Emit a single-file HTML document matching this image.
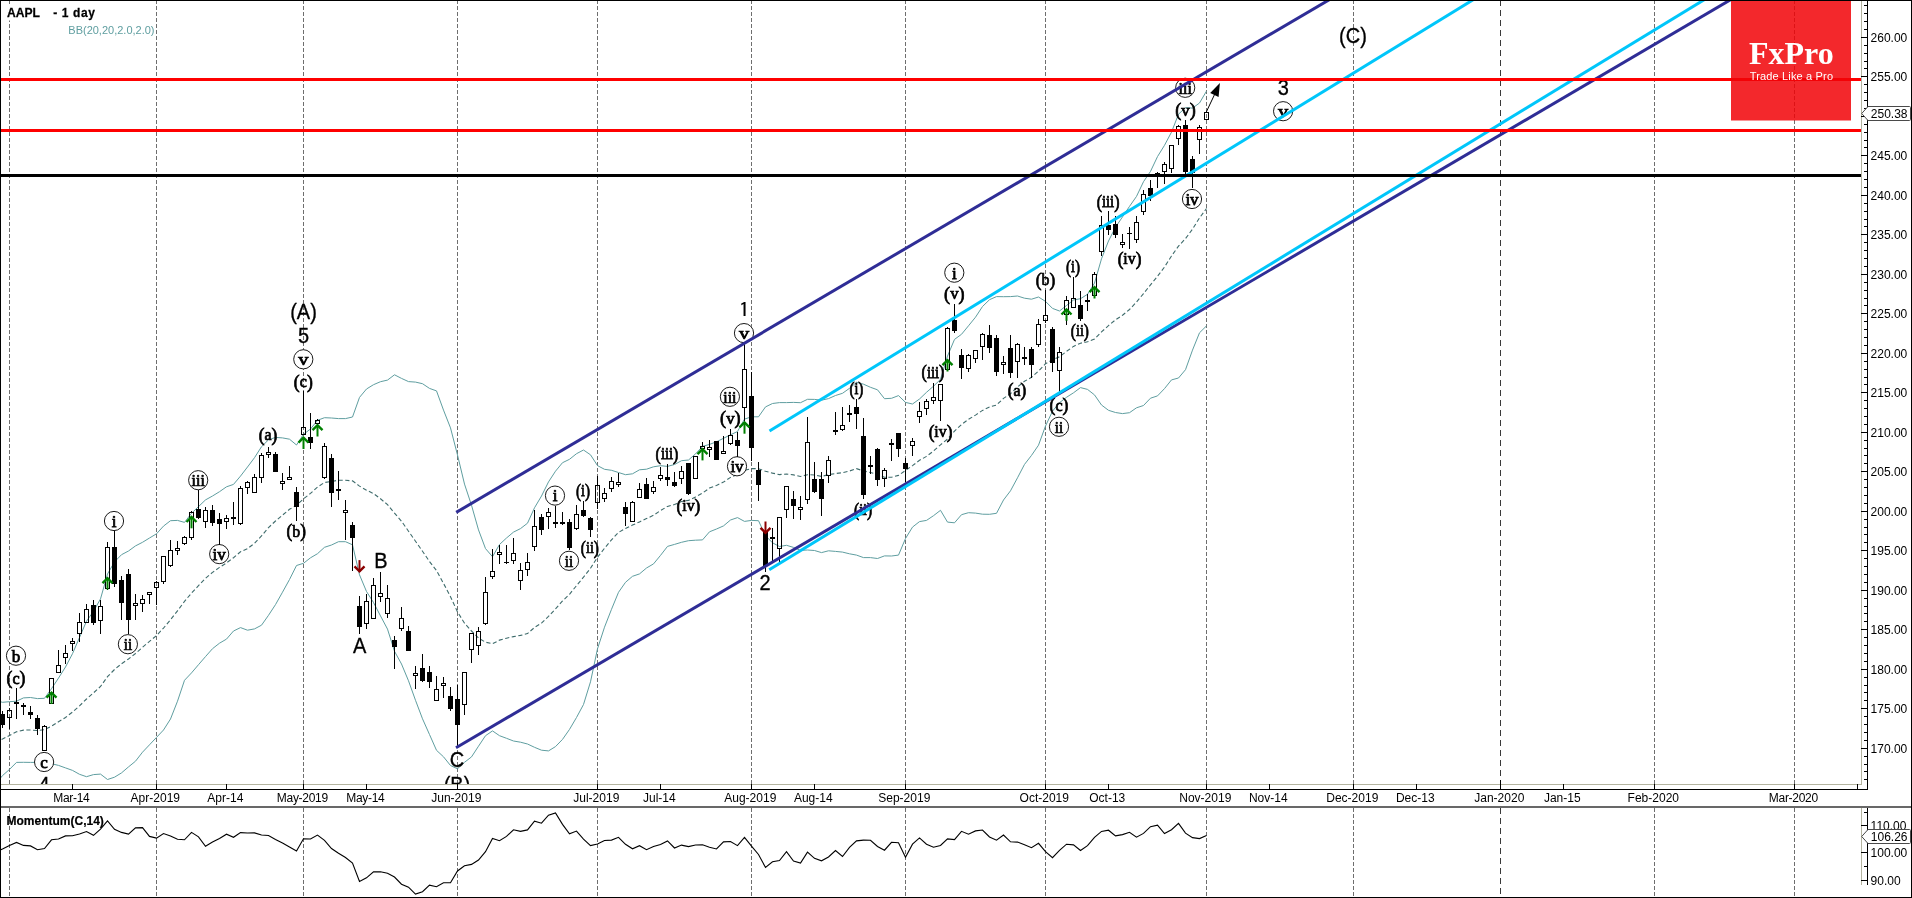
<!DOCTYPE html><html><head><meta charset="utf-8"><title>AAPL - 1 day</title>
<style>html,body{margin:0;padding:0;background:#fff}svg{display:block;will-change:transform}text{font-family:"Liberation Sans",sans-serif}.se,.se text{font-family:"Liberation Serif",serif;font-weight:bold}.sl,.sl text{font-family:"Liberation Serif",serif;font-weight:normal;stroke:#000;stroke-width:.75px}</style></head><body>
<svg width="1912" height="898" viewBox="0 0 1912 898">
<rect width="1912" height="898" fill="#fff"/>
<defs><clipPath id="cm"><rect x="1" y="1" width="1860" height="783"/></clipPath><clipPath id="cp"><rect x="1" y="808" width="1860" height="89"/></clipPath></defs>
<g shape-rendering="crispEdges" fill="none"><path d="M9.5 0V784M9.5 808V897" stroke="#6e6e6e" stroke-dasharray="4 2"/><path d="M156.5 0V784M156.5 808V897" stroke="#6e6e6e" stroke-dasharray="4 2"/><path d="M303.5 0V784M303.5 808V897" stroke="#6e6e6e" stroke-dasharray="4 2"/><path d="M457.5 0V784M457.5 808V897" stroke="#6e6e6e" stroke-dasharray="4 2"/><path d="M597.5 0V784M597.5 808V897" stroke="#6e6e6e" stroke-dasharray="4 2"/><path d="M751.5 0V784M751.5 808V897" stroke="#6e6e6e" stroke-dasharray="4 2"/><path d="M905.5 0V784M905.5 808V897" stroke="#6e6e6e" stroke-dasharray="4 2"/><path d="M1045.5 0V784M1045.5 808V897" stroke="#6e6e6e" stroke-dasharray="4 2"/><path d="M1206.5 0V784M1206.5 808V897" stroke="#6e6e6e" stroke-dasharray="4 2"/><path d="M1353.5 0V784M1353.5 808V897" stroke="#6e6e6e" stroke-dasharray="4 2"/><path d="M1500.5 0V784M1500.5 808V897" stroke="#3a3a3a" stroke-dasharray="6 4"/><path d="M1654.5 0V784M1654.5 808V897" stroke="#6e6e6e" stroke-dasharray="4 2"/><path d="M1794.5 0V784M1794.5 808V897" stroke="#6e6e6e" stroke-dasharray="4 2"/></g>
<g clip-path="url(#cm)">
<g id="bb" fill="none" stroke-width="1">
<polyline points="-4.5,700.4 2.5,702.3 9.5,701.7 16.5,701.2 23.5,697.9 30.5,697.5 37.5,698.6 44.5,698.3 51.5,688.7 58.5,678.1 65.5,667.0 72.5,653.7 79.5,637.5 86.5,621.2 93.5,611.3 100.5,598.9 107.5,574.0 114.5,561.9 121.5,554.7 128.5,551.0 135.5,545.9 142.5,542.3 149.5,538.0 156.5,533.8 163.5,526.1 170.5,520.7 177.5,520.4 184.5,522.4 191.5,513.3 198.5,506.6 205.5,499.9 212.5,496.0 219.5,491.7 226.5,486.8 233.5,484.4 240.5,476.1 247.5,467.0 254.5,457.7 261.5,446.7 268.5,439.8 275.5,437.4 282.5,437.9 289.5,439.2 296.5,445.0 303.5,434.3 310.5,429.0 317.5,420.3 324.5,417.7 331.5,418.0 338.5,418.6 345.5,418.6 352.5,417.0 359.5,397.4 366.5,389.0 373.5,384.7 380.5,381.7 387.5,380.1 394.5,374.8 401.5,378.4 408.5,381.6 415.5,382.1 422.5,383.7 429.5,388.4 436.5,390.9 443.5,410.1 450.5,427.9 457.5,455.0 464.5,484.1 471.5,505.2 478.5,529.9 485.5,548.6 492.5,556.7 499.5,544.5 506.5,538.0 513.5,532.1 520.5,528.6 527.5,523.2 534.5,507.8 541.5,496.0 548.5,481.9 555.5,471.2 562.5,462.7 569.5,459.3 576.5,453.7 583.5,450.0 590.5,454.8 597.5,465.6 604.5,469.3 611.5,470.3 618.5,472.5 625.5,474.7 632.5,473.8 639.5,469.8 646.5,469.2 653.5,466.8 660.5,465.7 667.5,466.4 674.5,464.5 681.5,460.7 688.5,460.0 695.5,453.9 702.5,446.4 709.5,444.4 716.5,441.8 723.5,438.3 730.5,434.8 737.5,431.5 744.5,419.1 751.5,416.8 758.5,416.8 765.5,406.9 772.5,403.5 779.5,402.6 786.5,402.6 793.5,402.4 800.5,402.7 807.5,399.3 814.5,399.4 821.5,400.2 828.5,398.6 835.5,395.5 842.5,393.3 849.5,388.3 856.5,382.3 863.5,384.2 870.5,387.3 877.5,389.8 884.5,398.7 891.5,398.3 898.5,395.6 905.5,402.4 912.5,404.0 919.5,399.0 926.5,392.3 933.5,386.2 940.5,379.3 947.5,356.1 954.5,339.4 961.5,334.3 968.5,325.8 975.5,317.2 982.5,306.5 989.5,299.7 996.5,296.6 1003.5,296.7 1010.5,296.6 1017.5,296.0 1024.5,298.2 1031.5,299.2 1038.5,297.0 1045.5,301.4 1052.5,308.4 1059.5,311.0 1066.5,305.5 1073.5,300.0 1080.5,298.7 1087.5,294.3 1094.5,283.1 1101.5,258.8 1108.5,241.0 1115.5,227.2 1122.5,216.9 1129.5,206.4 1136.5,196.4 1143.5,181.7 1150.5,171.4 1157.5,156.6 1164.5,145.3 1171.5,132.1 1178.5,114.2 1185.5,107.6 1192.5,108.1 1199.5,103.0 1206.5,91.1" stroke="#5f9ea0"/>
<polyline points="-4.5,783.9 2.5,775.6 9.5,769.4 16.5,762.4 23.5,762.3 30.5,762.4 37.5,762.4 44.5,761.1 51.5,763.7 58.5,765.4 65.5,767.9 72.5,770.4 79.5,774.3 86.5,776.7 93.5,774.6 100.5,774.1 107.5,779.5 114.5,777.2 121.5,772.9 128.5,766.9 135.5,761.2 142.5,752.2 149.5,744.8 156.5,737.4 163.5,730.0 170.5,719.0 177.5,701.2 184.5,680.3 191.5,672.9 198.5,664.7 205.5,656.6 212.5,648.7 219.5,643.2 226.5,639.1 233.5,631.0 240.5,627.6 247.5,630.2 254.5,628.9 261.5,625.2 268.5,615.3 275.5,604.6 282.5,592.2 289.5,579.5 296.5,565.5 303.5,563.3 310.5,557.8 317.5,553.7 324.5,547.3 331.5,545.0 338.5,541.7 345.5,541.7 352.5,544.8 359.5,574.8 366.5,591.5 373.5,602.5 380.5,615.9 387.5,629.1 394.5,651.3 401.5,664.0 408.5,680.8 415.5,700.3 422.5,718.8 429.5,734.5 436.5,750.3 443.5,756.8 450.5,765.5 457.5,768.8 464.5,762.3 471.5,756.9 478.5,746.2 485.5,735.7 492.5,730.9 499.5,735.7 506.5,738.3 513.5,741.0 520.5,742.2 527.5,744.0 534.5,747.3 541.5,750.2 548.5,750.9 555.5,746.6 562.5,739.4 569.5,729.4 576.5,717.5 583.5,704.5 590.5,681.8 597.5,648.8 604.5,627.2 611.5,609.3 618.5,592.3 625.5,582.3 632.5,576.3 639.5,573.9 646.5,568.0 653.5,563.9 660.5,555.4 667.5,546.4 674.5,544.4 681.5,542.3 688.5,540.7 695.5,540.2 702.5,539.9 709.5,531.8 716.5,529.0 723.5,525.9 730.5,520.0 737.5,517.6 744.5,521.4 751.5,520.4 758.5,520.7 765.5,535.8 772.5,542.8 779.5,546.5 786.5,545.3 793.5,547.4 800.5,550.4 807.5,550.0 814.5,550.5 821.5,552.6 828.5,550.8 835.5,551.4 842.5,552.1 849.5,553.8 856.5,555.1 863.5,557.6 870.5,557.6 877.5,558.5 884.5,555.9 891.5,556.0 898.5,555.1 905.5,538.5 912.5,527.1 919.5,521.6 926.5,520.4 933.5,515.7 940.5,510.3 947.5,522.1 954.5,522.8 961.5,514.7 968.5,512.7 975.5,513.1 982.5,514.2 989.5,514.3 996.5,513.3 1003.5,500.0 1010.5,490.8 1017.5,477.8 1024.5,464.4 1031.5,455.4 1038.5,445.2 1045.5,426.0 1052.5,411.2 1059.5,402.7 1066.5,397.3 1073.5,392.8 1080.5,387.6 1087.5,389.4 1094.5,394.9 1101.5,405.0 1108.5,410.3 1115.5,412.5 1122.5,413.6 1129.5,412.7 1136.5,407.8 1143.5,405.5 1150.5,398.2 1157.5,395.9 1164.5,388.6 1171.5,379.9 1178.5,378.0 1185.5,369.7 1192.5,350.1 1199.5,332.8 1206.5,325.9" stroke="#5f9ea0"/>
<polyline points="-4.5,742.2 2.5,739.0 9.5,735.5 16.5,731.8 23.5,730.1 30.5,730.0 37.5,730.5 44.5,729.7 51.5,726.2 58.5,721.7 65.5,717.5 72.5,712.0 79.5,705.9 86.5,699.0 93.5,692.9 100.5,686.5 107.5,676.7 114.5,669.5 121.5,663.8 128.5,659.0 135.5,653.5 142.5,647.3 149.5,641.4 156.5,635.6 163.5,628.1 170.5,619.8 177.5,610.8 184.5,601.4 191.5,593.1 198.5,585.7 205.5,578.3 212.5,572.4 219.5,567.4 226.5,562.9 233.5,557.7 240.5,551.8 247.5,548.6 254.5,543.3 261.5,535.9 268.5,527.6 275.5,521.0 282.5,515.1 289.5,509.3 296.5,505.3 303.5,498.8 310.5,493.4 317.5,487.0 324.5,482.5 331.5,481.5 338.5,480.2 345.5,480.2 352.5,480.9 359.5,486.1 366.5,490.2 373.5,493.6 380.5,498.8 387.5,504.6 394.5,513.1 401.5,521.2 408.5,531.2 415.5,541.2 422.5,551.2 429.5,561.5 436.5,570.6 443.5,583.4 450.5,596.7 457.5,611.9 464.5,623.2 471.5,631.0 478.5,638.1 485.5,642.2 492.5,643.8 499.5,640.1 506.5,638.2 513.5,636.6 520.5,635.4 527.5,633.6 534.5,627.5 541.5,623.1 548.5,616.4 555.5,608.9 562.5,601.0 569.5,594.3 576.5,585.6 583.5,577.2 590.5,568.3 597.5,557.2 604.5,548.3 611.5,539.8 618.5,532.4 625.5,528.5 632.5,525.1 639.5,521.9 646.5,518.6 653.5,515.3 660.5,510.6 667.5,506.4 674.5,504.5 681.5,501.5 688.5,500.4 695.5,497.0 702.5,493.1 709.5,488.1 716.5,485.4 723.5,482.1 730.5,477.4 737.5,474.6 744.5,470.3 751.5,468.6 758.5,468.7 765.5,471.3 772.5,473.1 779.5,474.6 786.5,474.0 793.5,474.9 800.5,476.5 807.5,474.7 814.5,475.0 821.5,476.4 828.5,474.7 835.5,473.5 842.5,472.7 849.5,471.0 856.5,468.7 863.5,470.9 870.5,472.5 877.5,474.2 884.5,477.3 891.5,477.2 898.5,475.4 905.5,470.5 912.5,465.6 919.5,460.3 926.5,456.4 933.5,451.0 940.5,444.8 947.5,439.1 954.5,431.1 961.5,424.5 968.5,419.3 975.5,415.1 982.5,410.4 989.5,407.0 996.5,405.0 1003.5,398.4 1010.5,393.7 1017.5,386.9 1024.5,381.3 1031.5,377.3 1038.5,371.1 1045.5,363.7 1052.5,359.8 1059.5,356.8 1066.5,351.4 1073.5,346.4 1080.5,343.2 1087.5,341.8 1094.5,339.0 1101.5,331.9 1108.5,325.6 1115.5,319.9 1122.5,315.2 1129.5,309.5 1136.5,302.1 1143.5,293.6 1150.5,284.8 1157.5,276.3 1164.5,267.0 1171.5,256.0 1178.5,246.1 1185.5,238.6 1192.5,229.1 1199.5,217.9 1206.5,208.5" stroke="#3f6c6c" stroke-width="1.1" stroke-dasharray="4.2 2.5"/>
</g>
<g id="labels" fill="#000" text-anchor="middle"><g font-size="20" stroke="#000" stroke-width="0.3"><text transform="translate(303.5 319.3) scale(1 1.09)">(A)</text><text transform="translate(303.5 342.6) scale(1 1.09)">5</text><text transform="translate(359.6 652.9) scale(1 1.09)">A</text><text transform="translate(380.8 567.7) scale(1 1.09)">B</text><text transform="translate(457 766.6) scale(1 1.09)">C</text><text transform="translate(457 792.4) scale(1 1.09)">(B)</text><text transform="translate(44.0 792.4) scale(1 1.09)">4</text><text style="font-family:IPAGothic,'Liberation Sans',sans-serif" stroke-width="0.15" transform="translate(744.3 317.1) scale(1.1 1.02)">1</text><text transform="translate(765 589.9) scale(1 1.09)">2</text><text transform="translate(1283.4 94.8) scale(1 1.09)">3</text><text transform="translate(1353 43.3) scale(1 1.09)">(C)</text></g><g class="sl" font-size="17"><text transform="translate(16 683.8) scale(0.95 1)"><tspan font-size="18.5" dy="0.6">(</tspan><tspan dy="-0.6">c</tspan><tspan font-size="18.5" dy="0.6">)</tspan></text><text transform="translate(268.1 440.3) scale(0.93 1)"><tspan font-size="18.5" dy="0.6">(</tspan><tspan dy="-0.6">a</tspan><tspan font-size="18.5" dy="0.6">)</tspan></text><text transform="translate(296.3 536.6) scale(0.93 1)"><tspan font-size="18.5" dy="0.6">(</tspan><tspan dy="-0.6">b</tspan><tspan font-size="18.5" dy="0.6">)</tspan></text><text transform="translate(303.3 387.1) scale(0.95 1)"><tspan font-size="18.5" dy="0.6">(</tspan><tspan dy="-0.6">c</tspan><tspan font-size="18.5" dy="0.6">)</tspan></text><text transform="translate(583 496.1) scale(0.82 1)"><tspan font-size="18.5" dy="0.6">(</tspan><tspan dy="-0.6">i</tspan><tspan font-size="18.5" dy="0.6">)</tspan></text><text transform="translate(589.9 553.1) scale(0.83 1)"><tspan font-size="18.5" dy="0.6">(</tspan><tspan dy="-0.6">ii</tspan><tspan font-size="18.5" dy="0.6">)</tspan></text><text transform="translate(667 458.9) scale(0.86 1)"><tspan font-size="18.5" dy="0.6">(</tspan><tspan dy="-0.6">iii</tspan><tspan font-size="18.5" dy="0.6">)</tspan></text><text transform="translate(688.4 511.1) scale(0.93 1)"><tspan font-size="18.5" dy="0.6">(</tspan><tspan dy="-0.6">iv</tspan><tspan font-size="18.5" dy="0.6">)</tspan></text><text transform="translate(730.3 423.8) scale(0.98 1)"><tspan font-size="18.5" dy="0.6">(</tspan><tspan dy="-0.6">v</tspan><tspan font-size="18.5" dy="0.6">)</tspan></text><text transform="translate(856.4 394.1) scale(0.82 1)"><tspan font-size="18.5" dy="0.6">(</tspan><tspan dy="-0.6">i</tspan><tspan font-size="18.5" dy="0.6">)</tspan></text><text transform="translate(863.1 515.3) scale(0.83 1)"><tspan font-size="18.5" dy="0.6">(</tspan><tspan dy="-0.6">ii</tspan><tspan font-size="18.5" dy="0.6">)</tspan></text><text transform="translate(933 377.7) scale(0.86 1)"><tspan font-size="18.5" dy="0.6">(</tspan><tspan dy="-0.6">iii</tspan><tspan font-size="18.5" dy="0.6">)</tspan></text><text transform="translate(940.5 437.3) scale(0.93 1)"><tspan font-size="18.5" dy="0.6">(</tspan><tspan dy="-0.6">iv</tspan><tspan font-size="18.5" dy="0.6">)</tspan></text><text transform="translate(954.3 299.4) scale(0.98 1)"><tspan font-size="18.5" dy="0.6">(</tspan><tspan dy="-0.6">v</tspan><tspan font-size="18.5" dy="0.6">)</tspan></text><text transform="translate(1017 395.6) scale(0.93 1)"><tspan font-size="18.5" dy="0.6">(</tspan><tspan dy="-0.6">a</tspan><tspan font-size="18.5" dy="0.6">)</tspan></text><text transform="translate(1045.5 285.4) scale(0.93 1)"><tspan font-size="18.5" dy="0.6">(</tspan><tspan dy="-0.6">b</tspan><tspan font-size="18.5" dy="0.6">)</tspan></text><text transform="translate(1059 410.7) scale(0.95 1)"><tspan font-size="18.5" dy="0.6">(</tspan><tspan dy="-0.6">c</tspan><tspan font-size="18.5" dy="0.6">)</tspan></text><text transform="translate(1073 272.0) scale(0.82 1)"><tspan font-size="18.5" dy="0.6">(</tspan><tspan dy="-0.6">i</tspan><tspan font-size="18.5" dy="0.6">)</tspan></text><text transform="translate(1079.9 336.4) scale(0.83 1)"><tspan font-size="18.5" dy="0.6">(</tspan><tspan dy="-0.6">ii</tspan><tspan font-size="18.5" dy="0.6">)</tspan></text><text transform="translate(1108.1 207.0) scale(0.86 1)"><tspan font-size="18.5" dy="0.6">(</tspan><tspan dy="-0.6">iii</tspan><tspan font-size="18.5" dy="0.6">)</tspan></text><text transform="translate(1129.5 264.4) scale(0.93 1)"><tspan font-size="18.5" dy="0.6">(</tspan><tspan dy="-0.6">iv</tspan><tspan font-size="18.5" dy="0.6">)</tspan></text><text transform="translate(1185.5 115.8) scale(0.98 1)"><tspan font-size="18.5" dy="0.6">(</tspan><tspan dy="-0.6">v</tspan><tspan font-size="18.5" dy="0.6">)</tspan></text></g><g class="sl" font-size="17"><circle cx="16" cy="655.7" r="9.6" fill="#fff" stroke="#1a1a1a" stroke-width="1"/><text transform="translate(16 661.5) scale(1 1)">b</text><circle cx="44.1" cy="762.0" r="9.6" fill="#fff" stroke="#1a1a1a" stroke-width="1"/><text transform="translate(44.1 767.8) scale(1 1)">c</text><circle cx="114" cy="521" r="9.6" fill="#fff" stroke="#1a1a1a" stroke-width="1"/><text transform="translate(114 526.8) scale(1 1)">i</text><circle cx="127.9" cy="644.2" r="9.6" fill="#fff" stroke="#1a1a1a" stroke-width="1"/><text transform="translate(127.9 650.0) scale(0.88 1)">ii</text><circle cx="198.2" cy="480.2" r="9.6" fill="#fff" stroke="#1a1a1a" stroke-width="1"/><text transform="translate(198.2 486.0) scale(0.93 1)">iii</text><circle cx="219.2" cy="554.1" r="9.6" fill="#fff" stroke="#1a1a1a" stroke-width="1"/><text transform="translate(219.2 559.9) scale(1 1)">iv</text><circle cx="303.3" cy="359.3" r="9.6" fill="#fff" stroke="#1a1a1a" stroke-width="1"/><text transform="translate(303.3 365.1) scale(1.2 1)">v</text><circle cx="555" cy="495.6" r="9.6" fill="#fff" stroke="#1a1a1a" stroke-width="1"/><text transform="translate(555 501.4) scale(1 1)">i</text><circle cx="569" cy="560.8" r="9.6" fill="#fff" stroke="#1a1a1a" stroke-width="1"/><text transform="translate(569 566.6) scale(0.88 1)">ii</text><circle cx="729.9" cy="396.8" r="9.6" fill="#fff" stroke="#1a1a1a" stroke-width="1"/><text transform="translate(729.9 402.6) scale(0.93 1)">iii</text><circle cx="737" cy="466.3" r="9.6" fill="#fff" stroke="#1a1a1a" stroke-width="1"/><text transform="translate(737 472.1) scale(1 1)">iv</text><circle cx="744" cy="333.1" r="9.6" fill="#fff" stroke="#1a1a1a" stroke-width="1"/><text transform="translate(744 338.9) scale(1.2 1)">v</text><circle cx="954.3" cy="272.7" r="9.6" fill="#fff" stroke="#1a1a1a" stroke-width="1"/><text transform="translate(954.3 278.5) scale(1 1)">i</text><circle cx="1059" cy="426.8" r="9.6" fill="#fff" stroke="#1a1a1a" stroke-width="1"/><text transform="translate(1059 432.6) scale(0.88 1)">ii</text><circle cx="1185.2" cy="87.8" r="9.6" fill="#fff" stroke="#1a1a1a" stroke-width="1"/><text transform="translate(1185.2 93.6) scale(0.93 1)">iii</text><circle cx="1192" cy="199" r="9.6" fill="#fff" stroke="#1a1a1a" stroke-width="1"/><text transform="translate(1192 204.8) scale(1 1)">iv</text><circle cx="1283.1" cy="111.2" r="9.6" fill="#fff" stroke="#1a1a1a" stroke-width="1"/><text transform="translate(1283.1 117.0) scale(1.2 1)">v</text></g></g>
<g id="candles" shape-rendering="crispEdges"><rect x="2" y="711" width="1" height="17" fill="#000"/><rect x="0" y="714" width="5" height="11" fill="#000"/><rect x="9" y="708" width="1" height="2" fill="#000"/><rect x="9" y="718" width="1" height="11" fill="#000"/><rect x="7.5" y="710.5" width="4" height="7" fill="none" stroke="#000"/><rect x="16" y="688" width="1" height="31" fill="#000"/><rect x="14" y="702" width="5" height="2" fill="#000"/><rect x="23" y="703" width="1" height="12" fill="#000"/><rect x="21" y="705" width="5" height="2" fill="#000"/><rect x="30" y="706" width="1" height="13" fill="#000"/><rect x="28" y="712" width="5" height="3" fill="#000"/><rect x="37" y="715" width="1" height="20" fill="#000"/><rect x="35" y="718" width="5" height="11" fill="#000"/><rect x="44" y="725" width="1" height="1" fill="#000"/><rect x="42.5" y="726.5" width="4" height="24" fill="none" stroke="#000"/><rect x="49.5" y="678.5" width="4" height="25" fill="none" stroke="#000"/><rect x="58" y="650" width="1" height="15" fill="#000"/><rect x="56.5" y="665.5" width="4" height="7" fill="none" stroke="#000"/><rect x="65" y="645" width="1" height="8" fill="#000"/><rect x="65" y="658" width="1" height="6" fill="#000"/><rect x="63.5" y="653.5" width="4" height="4" fill="none" stroke="#000"/><rect x="72" y="638" width="1" height="3" fill="#000"/><rect x="72" y="644" width="1" height="7" fill="#000"/><rect x="70.5" y="641.5" width="4" height="2" fill="none" stroke="#000"/><rect x="79" y="613" width="1" height="9" fill="#000"/><rect x="79" y="634" width="1" height="8" fill="#000"/><rect x="77.5" y="622.5" width="4" height="11" fill="none" stroke="#000"/><rect x="86" y="604" width="1" height="5" fill="#000"/><rect x="84.5" y="609.5" width="4" height="13" fill="none" stroke="#000"/><rect x="93" y="600" width="1" height="25" fill="#000"/><rect x="91" y="605" width="5" height="18" fill="#000"/><rect x="100" y="600" width="1" height="6" fill="#000"/><rect x="100" y="621" width="1" height="13" fill="#000"/><rect x="98.5" y="606.5" width="4" height="14" fill="none" stroke="#000"/><rect x="107" y="542" width="1" height="5" fill="#000"/><rect x="107" y="589" width="1" height="1" fill="#000"/><rect x="105.5" y="547.5" width="4" height="41" fill="none" stroke="#000"/><rect x="114" y="531" width="1" height="56" fill="#000"/><rect x="112" y="547" width="5" height="37" fill="#000"/><rect x="121" y="576" width="1" height="44" fill="#000"/><rect x="119" y="580" width="5" height="23" fill="#000"/><rect x="128" y="569" width="1" height="65" fill="#000"/><rect x="126" y="574" width="5" height="46" fill="#000"/><rect x="135" y="594" width="1" height="9" fill="#000"/><rect x="135" y="606" width="1" height="14" fill="#000"/><rect x="133.5" y="603.5" width="4" height="2" fill="none" stroke="#000"/><rect x="142" y="595" width="1" height="4" fill="#000"/><rect x="142" y="604" width="1" height="8" fill="#000"/><rect x="140.5" y="599.5" width="4" height="4" fill="none" stroke="#000"/><rect x="149" y="595" width="1" height="9" fill="#000"/><rect x="147.5" y="592.5" width="4" height="2" fill="none" stroke="#000"/><rect x="156" y="581" width="1" height="1" fill="#000"/><rect x="156" y="588" width="1" height="17" fill="#000"/><rect x="154.5" y="582.5" width="4" height="5" fill="none" stroke="#000"/><rect x="163" y="582" width="1" height="2" fill="#000"/><rect x="161.5" y="556.5" width="4" height="25" fill="none" stroke="#000"/><rect x="170" y="540" width="1" height="10" fill="#000"/><rect x="170" y="566" width="1" height="1" fill="#000"/><rect x="168.5" y="550.5" width="4" height="15" fill="none" stroke="#000"/><rect x="177" y="541" width="1" height="7" fill="#000"/><rect x="177" y="551" width="1" height="4" fill="#000"/><rect x="175.5" y="548.5" width="4" height="2" fill="none" stroke="#000"/><rect x="184" y="536" width="1" height="1" fill="#000"/><rect x="184" y="544" width="1" height="1" fill="#000"/><rect x="182.5" y="537.5" width="4" height="6" fill="none" stroke="#000"/><rect x="191" y="511" width="1" height="1" fill="#000"/><rect x="191" y="538" width="1" height="2" fill="#000"/><rect x="189.5" y="512.5" width="4" height="25" fill="none" stroke="#000"/><rect x="198" y="490" width="1" height="29" fill="#000"/><rect x="196" y="509" width="5" height="9" fill="#000"/><rect x="205" y="507" width="1" height="3" fill="#000"/><rect x="205" y="522" width="1" height="6" fill="#000"/><rect x="203.5" y="510.5" width="4" height="11" fill="none" stroke="#000"/><rect x="212" y="505" width="1" height="21" fill="#000"/><rect x="210" y="510" width="5" height="13" fill="#000"/><rect x="219" y="513" width="1" height="32" fill="#000"/><rect x="217" y="519" width="5" height="5" fill="#000"/><rect x="226" y="515" width="1" height="3" fill="#000"/><rect x="226" y="522" width="1" height="7" fill="#000"/><rect x="224.5" y="518.5" width="4" height="3" fill="none" stroke="#000"/><rect x="233" y="502" width="1" height="23" fill="#000"/><rect x="231" y="517" width="5" height="2" fill="#000"/><rect x="240" y="486" width="1" height="2" fill="#000"/><rect x="240" y="524" width="1" height="1" fill="#000"/><rect x="238.5" y="488.5" width="4" height="35" fill="none" stroke="#000"/><rect x="247" y="481" width="1" height="1" fill="#000"/><rect x="247" y="488" width="1" height="6" fill="#000"/><rect x="245.5" y="482.5" width="4" height="5" fill="none" stroke="#000"/><rect x="254" y="474" width="1" height="3" fill="#000"/><rect x="252.5" y="477.5" width="4" height="15" fill="none" stroke="#000"/><rect x="261" y="453" width="1" height="2" fill="#000"/><rect x="261" y="478" width="1" height="5" fill="#000"/><rect x="259.5" y="455.5" width="4" height="22" fill="none" stroke="#000"/><rect x="268" y="447" width="1" height="5" fill="#000"/><rect x="268" y="455" width="1" height="3" fill="#000"/><rect x="266.5" y="452.5" width="4" height="2" fill="none" stroke="#000"/><rect x="275" y="452" width="1" height="20" fill="#000"/><rect x="273" y="454" width="5" height="18" fill="#000"/><rect x="282" y="473" width="1" height="8" fill="#000"/><rect x="282" y="484" width="1" height="6" fill="#000"/><rect x="280.5" y="481.5" width="4" height="2" fill="none" stroke="#000"/><rect x="289" y="466" width="1" height="11" fill="#000"/><rect x="287.5" y="477.5" width="4" height="2" fill="none" stroke="#000"/><rect x="296" y="487" width="1" height="34" fill="#000"/><rect x="294" y="492" width="5" height="15" fill="#000"/><rect x="303" y="391" width="1" height="36" fill="#000"/><rect x="301.5" y="427.5" width="4" height="7" fill="none" stroke="#000"/><rect x="310" y="413" width="1" height="36" fill="#000"/><rect x="308" y="437" width="5" height="6" fill="#000"/><rect x="317" y="419" width="1" height="1" fill="#000"/><rect x="315.5" y="420.5" width="4" height="3" fill="none" stroke="#000"/><rect x="324" y="443" width="1" height="3" fill="#000"/><rect x="324" y="478" width="1" height="1" fill="#000"/><rect x="322.5" y="446.5" width="4" height="31" fill="none" stroke="#000"/><rect x="331" y="454" width="1" height="53" fill="#000"/><rect x="329" y="458" width="5" height="35" fill="#000"/><rect x="338" y="471" width="1" height="29" fill="#000"/><rect x="336" y="489" width="5" height="2" fill="#000"/><rect x="345" y="500" width="1" height="10" fill="#000"/><rect x="345" y="513" width="1" height="27" fill="#000"/><rect x="343.5" y="510.5" width="4" height="2" fill="none" stroke="#000"/><rect x="352" y="522" width="1" height="49" fill="#000"/><rect x="350" y="525" width="5" height="13" fill="#000"/><rect x="359" y="596" width="1" height="38" fill="#000"/><rect x="357" y="606" width="5" height="21" fill="#000"/><rect x="366" y="594" width="1" height="7" fill="#000"/><rect x="366" y="624" width="1" height="5" fill="#000"/><rect x="364.5" y="601.5" width="4" height="22" fill="none" stroke="#000"/><rect x="373" y="578" width="1" height="7" fill="#000"/><rect x="371.5" y="585.5" width="4" height="33" fill="none" stroke="#000"/><rect x="380" y="572" width="1" height="21" fill="#000"/><rect x="380" y="597" width="1" height="5" fill="#000"/><rect x="378.5" y="593.5" width="4" height="3" fill="none" stroke="#000"/><rect x="387" y="585" width="1" height="13" fill="#000"/><rect x="387" y="614" width="1" height="4" fill="#000"/><rect x="385.5" y="598.5" width="4" height="15" fill="none" stroke="#000"/><rect x="394" y="636" width="1" height="33" fill="#000"/><rect x="392" y="640" width="5" height="7" fill="#000"/><rect x="401" y="607" width="1" height="11" fill="#000"/><rect x="401" y="629" width="1" height="2" fill="#000"/><rect x="399.5" y="618.5" width="4" height="10" fill="none" stroke="#000"/><rect x="408" y="626" width="1" height="25" fill="#000"/><rect x="406" y="631" width="5" height="20" fill="#000"/><rect x="415" y="666" width="1" height="7" fill="#000"/><rect x="415" y="676" width="1" height="13" fill="#000"/><rect x="413.5" y="673.5" width="4" height="2" fill="none" stroke="#000"/><rect x="422" y="654" width="1" height="28" fill="#000"/><rect x="420" y="668" width="5" height="13" fill="#000"/><rect x="429" y="666" width="1" height="22" fill="#000"/><rect x="427" y="672" width="5" height="10" fill="#000"/><rect x="436" y="676" width="1" height="13" fill="#000"/><rect x="434.5" y="689.5" width="4" height="11" fill="none" stroke="#000"/><rect x="443" y="677" width="1" height="6" fill="#000"/><rect x="443" y="686" width="1" height="12" fill="#000"/><rect x="441.5" y="683.5" width="4" height="2" fill="none" stroke="#000"/><rect x="450" y="687" width="1" height="24" fill="#000"/><rect x="448" y="696" width="5" height="13" fill="#000"/><rect x="457" y="685" width="1" height="63" fill="#000"/><rect x="455" y="699" width="5" height="26" fill="#000"/><rect x="464" y="705" width="1" height="10" fill="#000"/><rect x="462.5" y="672.5" width="4" height="32" fill="none" stroke="#000"/><rect x="471" y="650" width="1" height="13" fill="#000"/><rect x="469.5" y="633.5" width="4" height="16" fill="none" stroke="#000"/><rect x="478" y="627" width="1" height="4" fill="#000"/><rect x="478" y="646" width="1" height="9" fill="#000"/><rect x="476.5" y="631.5" width="4" height="14" fill="none" stroke="#000"/><rect x="485" y="577" width="1" height="15" fill="#000"/><rect x="485" y="624" width="1" height="1" fill="#000"/><rect x="483.5" y="592.5" width="4" height="31" fill="none" stroke="#000"/><rect x="492" y="549" width="1" height="22" fill="#000"/><rect x="492" y="577" width="1" height="2" fill="#000"/><rect x="490.5" y="571.5" width="4" height="5" fill="none" stroke="#000"/><rect x="499" y="545" width="1" height="7" fill="#000"/><rect x="499" y="555" width="1" height="9" fill="#000"/><rect x="497.5" y="552.5" width="4" height="2" fill="none" stroke="#000"/><rect x="506" y="545" width="1" height="19" fill="#000"/><rect x="504" y="562" width="5" height="1" fill="#000"/><rect x="513" y="538" width="1" height="15" fill="#000"/><rect x="513" y="561" width="1" height="3" fill="#000"/><rect x="511.5" y="553.5" width="4" height="7" fill="none" stroke="#000"/><rect x="520" y="563" width="1" height="7" fill="#000"/><rect x="520" y="581" width="1" height="9" fill="#000"/><rect x="518.5" y="570.5" width="4" height="10" fill="none" stroke="#000"/><rect x="527" y="553" width="1" height="9" fill="#000"/><rect x="527" y="570" width="1" height="6" fill="#000"/><rect x="525.5" y="562.5" width="4" height="7" fill="none" stroke="#000"/><rect x="534" y="510" width="1" height="16" fill="#000"/><rect x="534" y="547" width="1" height="4" fill="#000"/><rect x="532.5" y="526.5" width="4" height="20" fill="none" stroke="#000"/><rect x="541" y="514" width="1" height="21" fill="#000"/><rect x="539" y="517" width="5" height="13" fill="#000"/><rect x="548" y="508" width="1" height="4" fill="#000"/><rect x="548" y="517" width="1" height="12" fill="#000"/><rect x="546.5" y="512.5" width="4" height="4" fill="none" stroke="#000"/><rect x="555" y="506" width="1" height="22" fill="#000"/><rect x="553" y="522" width="5" height="2" fill="#000"/><rect x="562" y="512" width="1" height="13" fill="#000"/><rect x="560" y="522" width="5" height="2" fill="#000"/><rect x="569" y="519" width="1" height="31" fill="#000"/><rect x="567" y="522" width="5" height="26" fill="#000"/><rect x="576" y="505" width="1" height="9" fill="#000"/><rect x="576" y="529" width="1" height="1" fill="#000"/><rect x="574.5" y="514.5" width="4" height="14" fill="none" stroke="#000"/><rect x="583" y="501" width="1" height="16" fill="#000"/><rect x="581" y="510" width="5" height="6" fill="#000"/><rect x="590" y="517" width="1" height="20" fill="#000"/><rect x="588" y="518" width="5" height="12" fill="#000"/><rect x="597" y="476" width="1" height="9" fill="#000"/><rect x="597" y="503" width="1" height="6" fill="#000"/><rect x="595.5" y="485.5" width="4" height="17" fill="none" stroke="#000"/><rect x="604" y="488" width="1" height="5" fill="#000"/><rect x="604" y="499" width="1" height="3" fill="#000"/><rect x="602.5" y="493.5" width="4" height="5" fill="none" stroke="#000"/><rect x="611" y="477" width="1" height="4" fill="#000"/><rect x="611" y="489" width="1" height="3" fill="#000"/><rect x="609.5" y="481.5" width="4" height="7" fill="none" stroke="#000"/><rect x="618" y="473" width="1" height="9" fill="#000"/><rect x="618" y="485" width="1" height="2" fill="#000"/><rect x="616.5" y="482.5" width="4" height="2" fill="none" stroke="#000"/><rect x="625" y="502" width="1" height="24" fill="#000"/><rect x="623" y="507" width="5" height="7" fill="#000"/><rect x="632" y="501" width="1" height="1" fill="#000"/><rect x="630.5" y="502.5" width="4" height="19" fill="none" stroke="#000"/><rect x="639" y="483" width="1" height="6" fill="#000"/><rect x="637.5" y="489.5" width="4" height="8" fill="none" stroke="#000"/><rect x="646" y="478" width="1" height="21" fill="#000"/><rect x="644" y="484" width="5" height="15" fill="#000"/><rect x="653" y="481" width="1" height="6" fill="#000"/><rect x="653" y="492" width="1" height="2" fill="#000"/><rect x="651.5" y="487.5" width="4" height="4" fill="none" stroke="#000"/><rect x="660" y="467" width="1" height="8" fill="#000"/><rect x="660" y="479" width="1" height="2" fill="#000"/><rect x="658.5" y="475.5" width="4" height="3" fill="none" stroke="#000"/><rect x="667" y="464" width="1" height="22" fill="#000"/><rect x="665" y="477" width="5" height="3" fill="#000"/><rect x="674" y="472" width="1" height="15" fill="#000"/><rect x="672" y="482" width="5" height="4" fill="#000"/><rect x="681" y="466" width="1" height="5" fill="#000"/><rect x="681" y="479" width="1" height="5" fill="#000"/><rect x="679.5" y="471.5" width="4" height="7" fill="none" stroke="#000"/><rect x="688" y="463" width="1" height="32" fill="#000"/><rect x="686" y="463" width="5" height="31" fill="#000"/><rect x="693.5" y="456.5" width="4" height="22" fill="none" stroke="#000"/><rect x="702" y="442" width="1" height="4" fill="#000"/><rect x="700.5" y="446.5" width="4" height="2" fill="none" stroke="#000"/><rect x="709" y="440" width="1" height="7" fill="#000"/><rect x="709" y="450" width="1" height="7" fill="#000"/><rect x="707.5" y="447.5" width="4" height="2" fill="none" stroke="#000"/><rect x="716" y="441" width="1" height="19" fill="#000"/><rect x="714" y="441" width="5" height="19" fill="#000"/><rect x="723" y="436" width="1" height="15" fill="#000"/><rect x="721.5" y="451.5" width="4" height="2" fill="none" stroke="#000"/><rect x="730" y="429" width="1" height="6" fill="#000"/><rect x="730" y="444" width="1" height="1" fill="#000"/><rect x="728.5" y="435.5" width="4" height="8" fill="none" stroke="#000"/><rect x="737" y="432" width="1" height="25" fill="#000"/><rect x="735" y="440" width="5" height="6" fill="#000"/><rect x="744" y="343" width="1" height="26" fill="#000"/><rect x="744" y="408" width="1" height="13" fill="#000"/><rect x="742.5" y="369.5" width="4" height="38" fill="none" stroke="#000"/><rect x="751" y="372" width="1" height="89" fill="#000"/><rect x="749" y="396" width="5" height="52" fill="#000"/><rect x="758" y="462" width="1" height="39" fill="#000"/><rect x="756" y="470" width="5" height="15" fill="#000"/><rect x="765" y="532" width="1" height="40" fill="#000"/><rect x="763" y="532" width="5" height="34" fill="#000"/><rect x="772" y="528" width="1" height="33" fill="#000"/><rect x="770" y="537" width="5" height="2" fill="#000"/><rect x="779" y="549" width="1" height="13" fill="#000"/><rect x="777.5" y="517.5" width="4" height="31" fill="none" stroke="#000"/><rect x="786" y="510" width="1" height="8" fill="#000"/><rect x="784.5" y="486.5" width="4" height="23" fill="none" stroke="#000"/><rect x="793" y="491" width="1" height="28" fill="#000"/><rect x="791" y="499" width="5" height="7" fill="#000"/><rect x="800" y="496" width="1" height="11" fill="#000"/><rect x="800" y="510" width="1" height="10" fill="#000"/><rect x="798.5" y="507.5" width="4" height="2" fill="none" stroke="#000"/><rect x="807" y="417" width="1" height="25" fill="#000"/><rect x="807" y="500" width="1" height="4" fill="#000"/><rect x="805.5" y="442.5" width="4" height="57" fill="none" stroke="#000"/><rect x="814" y="462" width="1" height="31" fill="#000"/><rect x="812" y="479" width="5" height="13" fill="#000"/><rect x="821" y="472" width="1" height="44" fill="#000"/><rect x="819" y="479" width="5" height="20" fill="#000"/><rect x="828" y="456" width="1" height="4" fill="#000"/><rect x="828" y="476" width="1" height="7" fill="#000"/><rect x="826.5" y="460.5" width="4" height="15" fill="none" stroke="#000"/><rect x="835" y="412" width="1" height="23" fill="#000"/><rect x="833" y="430" width="5" height="2" fill="#000"/><rect x="842" y="407" width="1" height="18" fill="#000"/><rect x="842" y="430" width="1" height="1" fill="#000"/><rect x="840.5" y="425.5" width="4" height="4" fill="none" stroke="#000"/><rect x="849" y="405" width="1" height="17" fill="#000"/><rect x="847" y="413" width="5" height="2" fill="#000"/><rect x="856" y="399" width="1" height="30" fill="#000"/><rect x="854" y="407" width="5" height="7" fill="#000"/><rect x="863" y="418" width="1" height="81" fill="#000"/><rect x="861" y="436" width="5" height="59" fill="#000"/><rect x="870" y="456" width="1" height="18" fill="#000"/><rect x="868" y="465" width="5" height="2" fill="#000"/><rect x="877" y="448" width="1" height="38" fill="#000"/><rect x="875" y="449" width="5" height="31" fill="#000"/><rect x="884" y="468" width="1" height="2" fill="#000"/><rect x="884" y="479" width="1" height="8" fill="#000"/><rect x="882.5" y="470.5" width="4" height="8" fill="none" stroke="#000"/><rect x="891" y="439" width="1" height="22" fill="#000"/><rect x="889" y="443" width="5" height="2" fill="#000"/><rect x="898" y="433" width="1" height="24" fill="#000"/><rect x="896" y="433" width="5" height="16" fill="#000"/><rect x="905" y="458" width="1" height="24" fill="#000"/><rect x="903" y="463" width="5" height="6" fill="#000"/><rect x="912" y="438" width="1" height="3" fill="#000"/><rect x="912" y="446" width="1" height="10" fill="#000"/><rect x="910.5" y="441.5" width="4" height="4" fill="none" stroke="#000"/><rect x="919" y="402" width="1" height="9" fill="#000"/><rect x="919" y="417" width="1" height="6" fill="#000"/><rect x="917.5" y="411.5" width="4" height="5" fill="none" stroke="#000"/><rect x="926" y="399" width="1" height="2" fill="#000"/><rect x="926" y="409" width="1" height="6" fill="#000"/><rect x="924.5" y="401.5" width="4" height="7" fill="none" stroke="#000"/><rect x="933" y="383" width="1" height="14" fill="#000"/><rect x="933" y="401" width="1" height="3" fill="#000"/><rect x="931.5" y="397.5" width="4" height="3" fill="none" stroke="#000"/><rect x="940" y="401" width="1" height="20" fill="#000"/><rect x="938.5" y="384.5" width="4" height="16" fill="none" stroke="#000"/><rect x="947" y="327" width="1" height="1" fill="#000"/><rect x="947" y="370" width="1" height="1" fill="#000"/><rect x="945.5" y="328.5" width="4" height="41" fill="none" stroke="#000"/><rect x="954" y="304" width="1" height="29" fill="#000"/><rect x="952" y="320" width="5" height="11" fill="#000"/><rect x="961" y="349" width="1" height="30" fill="#000"/><rect x="959" y="355" width="5" height="13" fill="#000"/><rect x="968" y="354" width="1" height="1" fill="#000"/><rect x="968" y="369" width="1" height="3" fill="#000"/><rect x="966.5" y="355.5" width="4" height="13" fill="none" stroke="#000"/><rect x="975" y="359" width="1" height="4" fill="#000"/><rect x="973.5" y="350.5" width="4" height="8" fill="none" stroke="#000"/><rect x="982" y="333" width="1" height="1" fill="#000"/><rect x="982" y="347" width="1" height="13" fill="#000"/><rect x="980.5" y="334.5" width="4" height="12" fill="none" stroke="#000"/><rect x="989" y="325" width="1" height="28" fill="#000"/><rect x="987" y="335" width="5" height="13" fill="#000"/><rect x="996" y="335" width="1" height="41" fill="#000"/><rect x="994" y="338" width="5" height="34" fill="#000"/><rect x="1003" y="356" width="1" height="6" fill="#000"/><rect x="1003" y="365" width="1" height="9" fill="#000"/><rect x="1001.5" y="362.5" width="4" height="2" fill="none" stroke="#000"/><rect x="1010" y="335" width="1" height="43" fill="#000"/><rect x="1008" y="348" width="5" height="25" fill="#000"/><rect x="1017" y="343" width="1" height="1" fill="#000"/><rect x="1017" y="362" width="1" height="16" fill="#000"/><rect x="1015.5" y="344.5" width="4" height="17" fill="none" stroke="#000"/><rect x="1024" y="347" width="1" height="18" fill="#000"/><rect x="1022" y="357" width="5" height="2" fill="#000"/><rect x="1031" y="347" width="1" height="31" fill="#000"/><rect x="1029" y="349" width="5" height="16" fill="#000"/><rect x="1038" y="319" width="1" height="5" fill="#000"/><rect x="1038" y="345" width="1" height="2" fill="#000"/><rect x="1036.5" y="324.5" width="4" height="20" fill="none" stroke="#000"/><rect x="1045" y="290" width="1" height="25" fill="#000"/><rect x="1045" y="321" width="1" height="2" fill="#000"/><rect x="1043.5" y="315.5" width="4" height="5" fill="none" stroke="#000"/><rect x="1052" y="327" width="1" height="45" fill="#000"/><rect x="1050" y="329" width="5" height="34" fill="#000"/><rect x="1059" y="347" width="1" height="5" fill="#000"/><rect x="1059" y="371" width="1" height="22" fill="#000"/><rect x="1057.5" y="352.5" width="4" height="18" fill="none" stroke="#000"/><rect x="1066" y="296" width="1" height="4" fill="#000"/><rect x="1066" y="315" width="1" height="10" fill="#000"/><rect x="1064.5" y="300.5" width="4" height="14" fill="none" stroke="#000"/><rect x="1073" y="277" width="1" height="21" fill="#000"/><rect x="1071.5" y="298.5" width="4" height="9" fill="none" stroke="#000"/><rect x="1080" y="291" width="1" height="30" fill="#000"/><rect x="1078" y="305" width="5" height="14" fill="#000"/><rect x="1087" y="294" width="1" height="17" fill="#000"/><rect x="1085" y="300" width="5" height="2" fill="#000"/><rect x="1094" y="272" width="1" height="2" fill="#000"/><rect x="1092.5" y="274.5" width="4" height="21" fill="none" stroke="#000"/><rect x="1101" y="216" width="1" height="9" fill="#000"/><rect x="1101" y="252" width="1" height="4" fill="#000"/><rect x="1099.5" y="225.5" width="4" height="26" fill="none" stroke="#000"/><rect x="1108" y="211" width="1" height="24" fill="#000"/><rect x="1106" y="225" width="5" height="5" fill="#000"/><rect x="1115" y="216" width="1" height="22" fill="#000"/><rect x="1113" y="224" width="5" height="11" fill="#000"/><rect x="1122" y="234" width="1" height="8" fill="#000"/><rect x="1122" y="245" width="1" height="3" fill="#000"/><rect x="1120.5" y="242.5" width="4" height="2" fill="none" stroke="#000"/><rect x="1129" y="227" width="1" height="22" fill="#000"/><rect x="1127" y="233" width="5" height="1" fill="#000"/><rect x="1136" y="216" width="1" height="6" fill="#000"/><rect x="1136" y="240" width="1" height="3" fill="#000"/><rect x="1134.5" y="222.5" width="4" height="17" fill="none" stroke="#000"/><rect x="1143" y="190" width="1" height="4" fill="#000"/><rect x="1143" y="212" width="1" height="3" fill="#000"/><rect x="1141.5" y="194.5" width="4" height="17" fill="none" stroke="#000"/><rect x="1150" y="180" width="1" height="21" fill="#000"/><rect x="1148" y="188" width="5" height="8" fill="#000"/><rect x="1157" y="172" width="1" height="16" fill="#000"/><rect x="1155" y="173" width="5" height="1" fill="#000"/><rect x="1164" y="162" width="1" height="2" fill="#000"/><rect x="1164" y="172" width="1" height="12" fill="#000"/><rect x="1162.5" y="164.5" width="4" height="7" fill="none" stroke="#000"/><rect x="1171" y="169" width="1" height="4" fill="#000"/><rect x="1169.5" y="145.5" width="4" height="23" fill="none" stroke="#000"/><rect x="1178" y="125" width="1" height="1" fill="#000"/><rect x="1178" y="139" width="1" height="6" fill="#000"/><rect x="1176.5" y="126.5" width="4" height="12" fill="none" stroke="#000"/><rect x="1185" y="120" width="1" height="54" fill="#000"/><rect x="1183" y="125" width="5" height="47" fill="#000"/><rect x="1192" y="156" width="1" height="32" fill="#000"/><rect x="1190" y="159" width="5" height="14" fill="#000"/><rect x="1199" y="125" width="1" height="2" fill="#000"/><rect x="1199" y="140" width="1" height="14" fill="#000"/><rect x="1197.5" y="127.5" width="4" height="12" fill="none" stroke="#000"/><rect x="1204.5" y="112.5" width="4" height="7" fill="none" stroke="#000"/></g>
<g id="arrows" fill="none" stroke-linecap="butt"><path d="M46.5 697.7L51.5 692.7L56.5 697.7" stroke="#008000" stroke-width="2.4"/><path d="M51.5 692.5V704.0" stroke="#008000" stroke-width="2"/><path d="M102.5 583.2L107.5 578.2L112.5 583.2" stroke="#008000" stroke-width="2.4"/><path d="M107.5 578V589.5" stroke="#008000" stroke-width="2"/><path d="M186.5 522.0L191.5 517.0L196.5 522.0" stroke="#008000" stroke-width="2.4"/><path d="M191.5 516.8V528.3" stroke="#008000" stroke-width="2"/><path d="M298.5 442.7L303.5 437.7L308.5 442.7" stroke="#008000" stroke-width="2.4"/><path d="M303.5 437.5V449.0" stroke="#008000" stroke-width="2"/><path d="M312.5 430.2L317.5 425.2L322.5 430.2" stroke="#008000" stroke-width="2.4"/><path d="M317.5 425V436.5" stroke="#008000" stroke-width="2"/><path d="M697.5 454.09999999999997L702.5 449.09999999999997L707.5 454.09999999999997" stroke="#008000" stroke-width="2.4"/><path d="M702.5 448.9V460.4" stroke="#008000" stroke-width="2"/><path d="M739.5 427.4L744.5 422.4L749.5 427.4" stroke="#008000" stroke-width="2.4"/><path d="M744.5 422.2V433.7" stroke="#008000" stroke-width="2"/><path d="M942.5 365.2L947.5 360.2L952.5 365.2" stroke="#008000" stroke-width="2.4"/><path d="M947.5 360V371.5" stroke="#008000" stroke-width="2"/><path d="M1061.5 314.5L1066.5 309.5L1071.5 314.5" stroke="#008000" stroke-width="2.4"/><path d="M1066.5 309.3V320.8" stroke="#008000" stroke-width="2"/><path d="M1089.5 292.2L1094.5 287.2L1099.5 292.2" stroke="#008000" stroke-width="2.4"/><path d="M1094.5 287V298.5" stroke="#008000" stroke-width="2"/><path d="M354.5 566.4L359.5 571.4L364.5 566.4" stroke="#8b0000" stroke-width="2.4"/><path d="M359.5 571.6V560.1" stroke="#8b0000" stroke-width="2"/><path d="M760.5 527.8L765.5 532.8L770.5 527.8" stroke="#8b0000" stroke-width="2.4"/><path d="M765.5 533V521.5" stroke="#8b0000" stroke-width="2"/></g>
<g fill="none" stroke-width="3">
<line x1="456.2" y1="512.39" x2="1400" y2="-41.81" stroke="#2f2d96"/>
<line x1="456" y1="747.79" x2="1731" y2="-0.53" stroke="#2f2d96"/>
</g>
<g fill="none" stroke-width="3">
<line x1="769.5" y1="431" x2="1540" y2="-41.23" stroke="#00c6fa"/>
<line x1="769.2" y1="569.7" x2="1731" y2="-16.62" stroke="#00c6fa"/>
</g>
<g shape-rendering="crispEdges"><rect x="1" y="174" width="1860" height="3" fill="#000"/><rect x="1" y="78" width="1860" height="3" fill="#f00"/><rect x="1" y="129" width="1860" height="3" fill="#f00"/></g>
<g><line x1="1206.3" y1="112" x2="1215.5" y2="92.5" stroke="#000" stroke-width="1"/><polygon points="1219.9,82.9 1218.6,97 1210.2,93" fill="#000"/></g>
</g>
<g><rect x="1731" y="0" width="120" height="120.5" fill="#f10207" fill-opacity="0.85"/>
<text class="se" x="1749" y="63.7" font-size="32" fill="#fff" textLength="84.7" lengthAdjust="spacingAndGlyphs">FxPro</text>
<text x="1749.7" y="79.6" font-size="11" fill="#fff" textLength="83.3" lengthAdjust="spacing">Trade Like a Pro</text></g>
<rect x="7" y="5" width="90" height="15.5" fill="#fff"/>
<g font-size="12" font-weight="bold" fill="#000" stroke="#000" stroke-width="0.25"><text transform="translate(7 16.8) scale(1.01 1.09)">AAPL</text>
<text transform="translate(53.3 16.8) scale(1 1.09)" textLength="41.6">- 1 day</text></g>
<text x="68.3" y="34" font-size="11" fill="#5f9ea0">BB(20,20,2.0,2.0)</text>
<g shape-rendering="crispEdges"><rect x="1" y="784" width="1861" height="1" fill="#b4b4a0"/><rect x="1861" y="1" width="1" height="784" fill="#b4b4a0"/><rect x="1861" y="808" width="1" height="77" fill="#b4b4a0"/><rect x="0" y="789" width="1868" height="1" fill="#000"/><rect x="1867" y="1" width="1" height="789" fill="#000"/><rect x="1867" y="808" width="1" height="77" fill="#000"/><rect x="0" y="806" width="1912" height="2" fill="#686868"/><rect x="1864" y="779" width="3" height="1" fill="#000"/><rect x="1864" y="771" width="3" height="1" fill="#000"/><rect x="1864" y="764" width="3" height="1" fill="#000"/><rect x="1864" y="756" width="3" height="1" fill="#000"/><rect x="1861" y="748" width="6" height="1" fill="#000"/><rect x="1864" y="740" width="3" height="1" fill="#000"/><rect x="1864" y="732" width="3" height="1" fill="#000"/><rect x="1864" y="724" width="3" height="1" fill="#000"/><rect x="1864" y="716" width="3" height="1" fill="#000"/><rect x="1861" y="708" width="6" height="1" fill="#000"/><rect x="1864" y="700" width="3" height="1" fill="#000"/><rect x="1864" y="692" width="3" height="1" fill="#000"/><rect x="1864" y="685" width="3" height="1" fill="#000"/><rect x="1864" y="677" width="3" height="1" fill="#000"/><rect x="1861" y="669" width="6" height="1" fill="#000"/><rect x="1864" y="661" width="3" height="1" fill="#000"/><rect x="1864" y="653" width="3" height="1" fill="#000"/><rect x="1864" y="645" width="3" height="1" fill="#000"/><rect x="1864" y="637" width="3" height="1" fill="#000"/><rect x="1861" y="629" width="6" height="1" fill="#000"/><rect x="1864" y="621" width="3" height="1" fill="#000"/><rect x="1864" y="613" width="3" height="1" fill="#000"/><rect x="1864" y="606" width="3" height="1" fill="#000"/><rect x="1864" y="598" width="3" height="1" fill="#000"/><rect x="1861" y="590" width="6" height="1" fill="#000"/><rect x="1864" y="582" width="3" height="1" fill="#000"/><rect x="1864" y="574" width="3" height="1" fill="#000"/><rect x="1864" y="566" width="3" height="1" fill="#000"/><rect x="1864" y="558" width="3" height="1" fill="#000"/><rect x="1861" y="550" width="6" height="1" fill="#000"/><rect x="1864" y="542" width="3" height="1" fill="#000"/><rect x="1864" y="534" width="3" height="1" fill="#000"/><rect x="1864" y="527" width="3" height="1" fill="#000"/><rect x="1864" y="519" width="3" height="1" fill="#000"/><rect x="1861" y="511" width="6" height="1" fill="#000"/><rect x="1864" y="503" width="3" height="1" fill="#000"/><rect x="1864" y="495" width="3" height="1" fill="#000"/><rect x="1864" y="487" width="3" height="1" fill="#000"/><rect x="1864" y="479" width="3" height="1" fill="#000"/><rect x="1861" y="471" width="6" height="1" fill="#000"/><rect x="1864" y="463" width="3" height="1" fill="#000"/><rect x="1864" y="455" width="3" height="1" fill="#000"/><rect x="1864" y="448" width="3" height="1" fill="#000"/><rect x="1864" y="440" width="3" height="1" fill="#000"/><rect x="1861" y="432" width="6" height="1" fill="#000"/><rect x="1864" y="424" width="3" height="1" fill="#000"/><rect x="1864" y="416" width="3" height="1" fill="#000"/><rect x="1864" y="408" width="3" height="1" fill="#000"/><rect x="1864" y="400" width="3" height="1" fill="#000"/><rect x="1861" y="392" width="6" height="1" fill="#000"/><rect x="1864" y="384" width="3" height="1" fill="#000"/><rect x="1864" y="377" width="3" height="1" fill="#000"/><rect x="1864" y="369" width="3" height="1" fill="#000"/><rect x="1864" y="361" width="3" height="1" fill="#000"/><rect x="1861" y="353" width="6" height="1" fill="#000"/><rect x="1864" y="345" width="3" height="1" fill="#000"/><rect x="1864" y="337" width="3" height="1" fill="#000"/><rect x="1864" y="329" width="3" height="1" fill="#000"/><rect x="1864" y="321" width="3" height="1" fill="#000"/><rect x="1861" y="313" width="6" height="1" fill="#000"/><rect x="1864" y="305" width="3" height="1" fill="#000"/><rect x="1864" y="298" width="3" height="1" fill="#000"/><rect x="1864" y="290" width="3" height="1" fill="#000"/><rect x="1864" y="282" width="3" height="1" fill="#000"/><rect x="1861" y="274" width="6" height="1" fill="#000"/><rect x="1864" y="266" width="3" height="1" fill="#000"/><rect x="1864" y="258" width="3" height="1" fill="#000"/><rect x="1864" y="250" width="3" height="1" fill="#000"/><rect x="1864" y="242" width="3" height="1" fill="#000"/><rect x="1861" y="234" width="6" height="1" fill="#000"/><rect x="1864" y="226" width="3" height="1" fill="#000"/><rect x="1864" y="219" width="3" height="1" fill="#000"/><rect x="1864" y="211" width="3" height="1" fill="#000"/><rect x="1864" y="203" width="3" height="1" fill="#000"/><rect x="1861" y="195" width="6" height="1" fill="#000"/><rect x="1864" y="187" width="3" height="1" fill="#000"/><rect x="1864" y="179" width="3" height="1" fill="#000"/><rect x="1864" y="171" width="3" height="1" fill="#000"/><rect x="1864" y="163" width="3" height="1" fill="#000"/><rect x="1861" y="155" width="6" height="1" fill="#000"/><rect x="1864" y="147" width="3" height="1" fill="#000"/><rect x="1864" y="140" width="3" height="1" fill="#000"/><rect x="1864" y="132" width="3" height="1" fill="#000"/><rect x="1864" y="124" width="3" height="1" fill="#000"/><rect x="1861" y="116" width="6" height="1" fill="#000"/><rect x="1864" y="108" width="3" height="1" fill="#000"/><rect x="1864" y="100" width="3" height="1" fill="#000"/><rect x="1864" y="92" width="3" height="1" fill="#000"/><rect x="1864" y="84" width="3" height="1" fill="#000"/><rect x="1861" y="76" width="6" height="1" fill="#000"/><rect x="1864" y="68" width="3" height="1" fill="#000"/><rect x="1864" y="61" width="3" height="1" fill="#000"/><rect x="1864" y="53" width="3" height="1" fill="#000"/><rect x="1864" y="45" width="3" height="1" fill="#000"/><rect x="1861" y="37" width="6" height="1" fill="#000"/><rect x="1864" y="29" width="3" height="1" fill="#000"/><rect x="1864" y="21" width="3" height="1" fill="#000"/><rect x="1864" y="13" width="3" height="1" fill="#000"/><rect x="1864" y="5" width="3" height="1" fill="#000"/><rect x="1861" y="880" width="6" height="1" fill="#000"/><rect x="1864" y="866" width="3" height="1" fill="#000"/><rect x="1861" y="852" width="6" height="1" fill="#000"/><rect x="1864" y="839" width="3" height="1" fill="#000"/><rect x="1861" y="825" width="6" height="1" fill="#000"/><rect x="1864" y="812" width="3" height="1" fill="#000"/><rect x="72" y="784" width="1" height="5" fill="#000"/><rect x="156" y="784" width="1" height="5" fill="#000"/><rect x="226" y="784" width="1" height="5" fill="#000"/><rect x="303" y="784" width="1" height="5" fill="#000"/><rect x="366" y="784" width="1" height="5" fill="#000"/><rect x="457" y="784" width="1" height="5" fill="#000"/><rect x="597" y="784" width="1" height="5" fill="#000"/><rect x="660" y="784" width="1" height="5" fill="#000"/><rect x="751" y="784" width="1" height="5" fill="#000"/><rect x="814" y="784" width="1" height="5" fill="#000"/><rect x="905" y="784" width="1" height="5" fill="#000"/><rect x="1045" y="784" width="1" height="5" fill="#000"/><rect x="1108" y="784" width="1" height="5" fill="#000"/><rect x="1206" y="784" width="1" height="5" fill="#000"/><rect x="1269" y="784" width="1" height="5" fill="#000"/><rect x="1353" y="784" width="1" height="5" fill="#000"/><rect x="1416" y="784" width="1" height="5" fill="#000"/><rect x="1500" y="780" width="1" height="9" fill="#000"/><rect x="1563" y="784" width="1" height="5" fill="#000"/><rect x="1654" y="784" width="1" height="5" fill="#000"/><rect x="1794" y="784" width="1" height="5" fill="#000"/><rect x="1857" y="784" width="1" height="5" fill="#000"/><rect x="0" y="0" width="1912" height="1" fill="#000"/><rect x="0" y="0" width="1" height="898" fill="#000"/><rect x="1911" y="0" width="1" height="898" fill="#000"/><rect x="0" y="897" width="1912" height="1" fill="#000"/></g>
<g font-size="12" fill="#000"><text x="71.3" y="802" text-anchor="middle" letter-spacing="-0.3">Mar-14</text><text x="155.3" y="802" text-anchor="middle">Apr-2019</text><text x="225.3" y="802" text-anchor="middle">Apr-14</text><text x="302.3" y="802" text-anchor="middle" letter-spacing="-0.3">May-2019</text><text x="365.3" y="802" text-anchor="middle" letter-spacing="-0.3">May-14</text><text x="456.3" y="802" text-anchor="middle">Jun-2019</text><text x="596.3" y="802" text-anchor="middle">Jul-2019</text><text x="659.3" y="802" text-anchor="middle">Jul-14</text><text x="750.3" y="802" text-anchor="middle">Aug-2019</text><text x="813.3" y="802" text-anchor="middle">Aug-14</text><text x="904.3" y="802" text-anchor="middle">Sep-2019</text><text x="1044.3" y="802" text-anchor="middle">Oct-2019</text><text x="1107.3" y="802" text-anchor="middle">Oct-13</text><text x="1205.3" y="802" text-anchor="middle">Nov-2019</text><text x="1268.3" y="802" text-anchor="middle">Nov-14</text><text x="1352.3" y="802" text-anchor="middle">Dec-2019</text><text x="1415.3" y="802" text-anchor="middle">Dec-13</text><text x="1499.3" y="802" text-anchor="middle">Jan-2020</text><text x="1562.3" y="802" text-anchor="middle">Jan-15</text><text x="1653.3" y="802" text-anchor="middle">Feb-2020</text><text x="1793.3" y="802" text-anchor="middle" letter-spacing="-0.3">Mar-2020</text></g><g font-size="12" fill="#000"><text x="1870.6" y="752.8">170.00</text><text x="1870.6" y="712.8">175.00</text><text x="1870.6" y="673.8">180.00</text><text x="1870.6" y="633.8">185.00</text><text x="1870.6" y="594.8">190.00</text><text x="1870.6" y="554.8">195.00</text><text x="1870.6" y="515.8">200.00</text><text x="1870.6" y="475.8">205.00</text><text x="1870.6" y="436.8">210.00</text><text x="1870.6" y="396.8">215.00</text><text x="1870.6" y="357.8">220.00</text><text x="1870.6" y="317.8">225.00</text><text x="1870.6" y="278.8">230.00</text><text x="1870.6" y="238.8">235.00</text><text x="1870.6" y="199.8">240.00</text><text x="1870.6" y="159.8">245.00</text><text x="1870.6" y="120.8">250.00</text><text x="1870.6" y="80.8">255.00</text><text x="1870.6" y="41.8">260.00</text><text x="1870.6" y="884.8">90.00</text><text x="1870.6" y="856.8">100.00</text><text x="1870.6" y="829.8">110.00</text></g>
<path d="M1861.7 113.5L1868 106.5H1909.5Q1910.5 106.5 1910.5 107.5V119.5Q1910.5 120.5 1909.5 120.5H1868Z" fill="#fff" stroke="#4a4a4a" stroke-width="1"/><text x="1870.8" y="117.8" font-size="12" fill="#000">250.38</text>
<path d="M1861.7 836.5L1868 829.5H1909.5Q1910.5 829.5 1910.5 830.5V842.5Q1910.5 843.5 1909.5 843.5H1868Z" fill="#fff" stroke="#4a4a4a" stroke-width="1"/><text x="1870.8" y="840.8" font-size="12" fill="#000">106.26</text>
<g clip-path="url(#cp)"><polyline points="-4.5,851.9 2.5,849.1 9.5,845.4 16.5,842.4 23.5,845.4 30.5,845.9 37.5,849.7 44.5,848.6 51.5,839.8 58.5,839.0 65.5,835.9 72.5,835.7 79.5,834.0 86.5,831.6 93.5,835.3 100.5,829.2 107.5,820.8 114.5,829.3 121.5,832.4 128.5,834.1 135.5,827.9 142.5,827.6 149.5,836.4 156.5,838.1 163.5,833.5 170.5,835.9 177.5,839.3 184.5,839.8 191.5,832.4 198.5,836.8 205.5,846.3 212.5,842.0 219.5,838.4 226.5,834.2 233.5,837.3 240.5,832.6 247.5,833.0 254.5,832.9 261.5,835.0 268.5,835.5 275.5,839.5 282.5,843.0 289.5,846.9 296.5,851.0 303.5,838.7 310.5,839.0 317.5,835.1 324.5,840.4 331.5,848.5 338.5,853.3 345.5,857.5 352.5,863.1 359.5,881.4 366.5,877.8 373.5,871.9 380.5,871.8 387.5,873.3 394.5,877.0 401.5,884.2 408.5,887.2 415.5,894.1 422.5,891.7 429.5,885.1 436.5,886.7 443.5,882.7 450.5,882.8 457.5,871.0 464.5,865.8 471.5,864.4 478.5,860.0 485.5,851.7 492.5,838.5 499.5,840.7 506.5,836.4 513.5,829.8 520.5,831.4 527.5,829.9 534.5,821.1 541.5,823.2 548.5,815.2 555.5,812.9 562.5,824.4 569.5,833.8 576.5,831.1 583.5,839.1 590.5,845.6 597.5,844.1 604.5,840.5 611.5,840.1 618.5,837.3 625.5,844.3 632.5,848.8 639.5,845.7 646.5,849.7 653.5,846.6 660.5,844.4 667.5,840.9 674.5,848.0 681.5,845.1 688.5,846.6 695.5,845.0 702.5,844.8 709.5,847.3 716.5,849.0 723.5,841.9 730.5,841.5 737.5,845.6 744.5,837.4 751.5,846.2 758.5,854.5 765.5,867.5 772.5,861.8 779.5,860.6 786.5,851.7 793.5,861.1 800.5,863.1 807.5,852.1 814.5,858.3 821.5,860.8 828.5,857.0 835.5,850.6 842.5,856.5 849.5,847.4 856.5,840.9 863.5,840.1 870.5,840.3 877.5,846.5 884.5,850.2 891.5,842.3 898.5,842.8 905.5,857.3 912.5,844.2 919.5,837.9 926.5,844.2 933.5,847.2 940.5,845.5 947.5,838.9 954.5,839.6 961.5,831.3 968.5,834.2 975.5,830.9 982.5,830.0 989.5,837.0 996.5,840.2 1003.5,835.0 1010.5,841.8 1017.5,842.1 1024.5,844.8 1031.5,847.7 1038.5,843.3 1045.5,851.7 1052.5,857.7 1059.5,850.4 1066.5,844.2 1073.5,844.9 1080.5,850.5 1087.5,845.7 1094.5,837.4 1101.5,831.4 1108.5,830.2 1115.5,835.9 1122.5,834.6 1129.5,832.3 1136.5,837.2 1143.5,833.4 1150.5,826.7 1157.5,825.1 1164.5,833.6 1171.5,829.7 1178.5,823.4 1185.5,833.1 1192.5,837.6 1199.5,838.6 1206.5,835.6" fill="none" stroke="#000" stroke-width="1.1"/></g>
<text x="6.5" y="824.6" font-size="12" font-weight="bold" fill="#000" stroke="#000" stroke-width="0.2">Momentum(C,14)</text>
</svg></body></html>
